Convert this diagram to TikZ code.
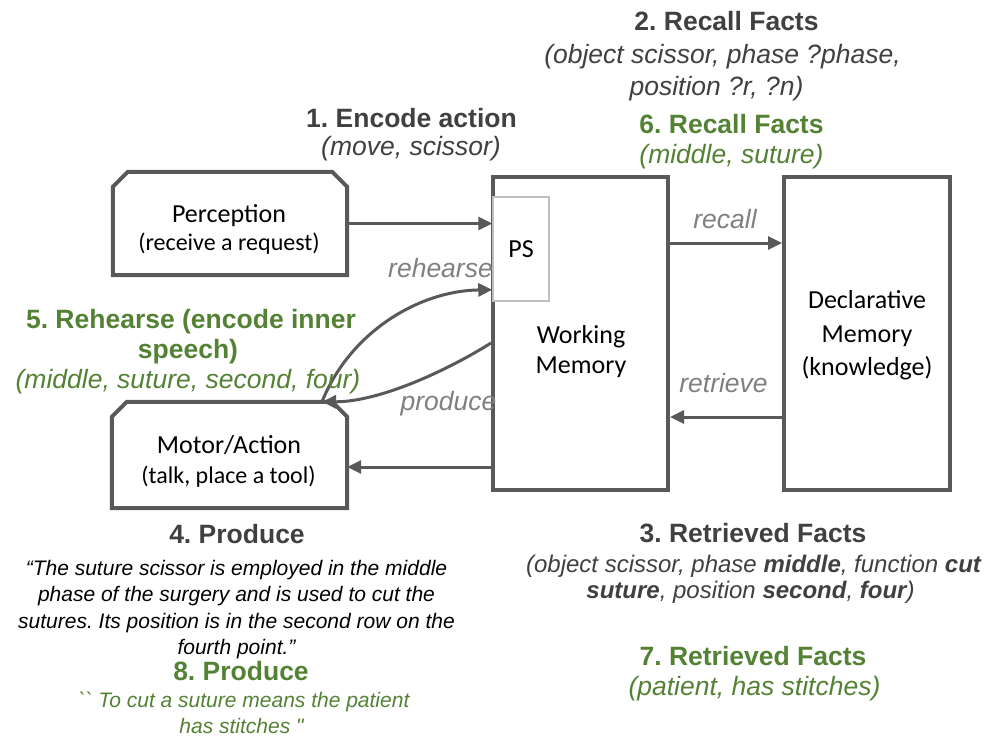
\documentclass[tikz,border=0pt]{standalone}
\usepackage{fontspec}
\setmainfont{Liberation Sans}
\newfontfamily\carlito{Carlito}
\newfontfamily\rawsans{Liberation Sans}
\usetikzlibrary{arrows.meta,calc}
\definecolor{darktext}{RGB}{64,64,64}
\definecolor{mygreen}{RGB}{84,130,53}
\definecolor{labelgray}{RGB}{128,128,128}
\definecolor{boxgray}{RGB}{89,89,89}
\definecolor{psgray}{RGB}{191,191,191}
\tikzset{
  hdTitle/.style={font=\fontsize{26.5}{32}\selectfont\bfseries, text=darktext, anchor=base, inner sep=0pt},
  hdSub/.style={font=\fontsize{26.5}{32}\selectfont\itshape, text=darktext, anchor=base, inner sep=0pt},
  hdSubSmall/.style={font=\fontsize{24}{28}\selectfont\itshape, text=darktext, anchor=base, inner sep=0pt},
  grTitle/.style={hdTitle, text=mygreen},
  grSub/.style={hdSub, text=mygreen},
  qtLine/.style={font=\fontsize{21}{26}\selectfont\itshape, text=black, anchor=base, inner sep=0pt},
  grQtLine/.style={font=\rawsans\fontsize{21}{26}\selectfont\itshape, text=mygreen, anchor=base, inner sep=0pt},
  flowLabel/.style={font=\fontsize{26.5}{32}\selectfont\itshape, text=labelgray, anchor=base, inner sep=0pt},
  boxMain/.style={font=\carlito\fontsize{26}{30}\selectfont, text=black, anchor=base, inner sep=0pt},
  boxSmall/.style={font=\carlito\fontsize{24}{28}\selectfont, text=black, anchor=base, inner sep=0pt},
  plainBox/.style={rectangle, inner sep=0pt},
  memBox/.style={rectangle, inner sep=0pt, draw=boxgray, line width=4pt},
  psBox/.style={rectangle, inner sep=0pt, draw=psgray, line width=1.5pt, fill=white},
  cutLine/.style={draw=boxgray, line width=4pt},
  arr/.style={draw=boxgray, line width=3pt, -{Triangle[length=14pt,width=13pt]}}
}
\frenchspacing
\begin{document}
\frenchspacing
\begin{tikzpicture}[x=1pt,y=-1pt]
\path[use as bounding box, fill=white] (0,0) rectangle (992,737);

% boxes
\node[plainBox, minimum width=234pt, minimum height=103pt] (perc) at (230,223.5) {};
\node[plainBox, minimum width=235pt, minimum height=106pt] (motor) at (229.5,455) {};
\node[memBox, minimum width=175pt, minimum height=313pt] (wm) at (580.5,333.5) {};
\node[memBox, minimum width=166pt, minimum height=313pt] (dm) at (867,333.5) {};
\node[psBox, minimum width=56pt, minimum height=104pt] (ps) at (521,249) {};

\draw[cutLine] (perc.south west) -- ($(perc.north west)+(0,15)$) -- ($(perc.north west)+(15,0)$)
  -- ($(perc.north east)+(-15,0)$) -- ($(perc.north east)+(0,15)$) -- (perc.south east) -- cycle;
\draw[cutLine] (motor.south west) -- ($(motor.north west)+(0,15)$) -- ($(motor.north west)+(15,0)$)
  -- ($(motor.north east)+(-15,0)$) -- ($(motor.north east)+(0,15)$) -- (motor.south east) -- cycle;

% box texts
\node[boxMain] (tperc) at (229,222) {Perception};
\node[boxSmall] (tperc2) at (229,250) {(receive a request)};
\node[boxMain] (tmotor) at (229,453) {Motor/Action};
\node[boxSmall] (tmotor2) at (228.5,483) {(talk, place a tool)};
\node[boxMain] (tps) at (521,257) {PS};
\node[boxMain] (twm1) at (581,343) {Working};
\node[boxMain] (twm2) at (581,373) {Memory};
\node[boxMain] (tdm1) at (867,308) {Declarative};
\node[boxMain] (tdm2) at (867,342) {Memory};
\node[boxMain] (tdm3) at (867,375) {(knowledge)};

% connectors
\draw[arr] (perc.east) -- (perc.east -| ps.west);
\coordinate (rc) at ($(wm.north east)+(0,68)$);
\draw[arr] (rc) -- (rc -| dm.west);
\coordinate (rt) at ($(dm.south west)+(0,-75)$);
\draw[arr] (rt) -- (rt -| wm.east);
\coordinate (pm) at ($(wm.south west)+(0,-25)$);
\draw[arr] (pm) -- (pm -| motor.east);
\coordinate (mt) at ($(motor.north)+(92.5,0)$);
\coordinate (psin) at ($(ps.south west)+(0,-12)$);
\coordinate (wmout) at ($(wm.west)+(0,9.5)$);
\draw[arr] (mt) .. controls +(28,-70) and +(-73,1) .. (psin);
\draw[arr] (wmout) .. controls +(-43,27) and +(58,0) .. (mt);

% connector labels
\node[flowLabel] (lrecall) at (725,228) {recall};
\node[flowLabel] (lretrieve) at (723.5,392) {retrieve};
\node[flowLabel] (lrehearse) at (440.5,277) {rehearse};
\node[flowLabel] (lproduce) at (448.5,410) {produce};

% step 1
\node[hdTitle] (s1a) at (411.5,127) {1. Encode action};
\node[hdSub] (s1b) at (411,155) {(move, scissor)};
% step 2
\node[hdTitle] (s2a) at (726.5,30) {2. Recall Facts};
\node[hdSub] (s2b) at (722.5,63) {(object scissor, phase ?phase,};
\node[hdSub] (s2c) at (716.5,95) {position ?r, ?n)};
% step 6
\node[grTitle] (s6a) at (731.5,133) {6. Recall Facts};
\node[grSub] (s6b) at (731.5,163) {(middle, suture)};
% step 5
\node[grTitle] (s5a) at (191,328) {5. Rehearse (encode inner};
\node[grTitle] (s5b) at (188,358) {speech)};
\node[grSub] (s5c) at (188,388) {(middle, suture, second, four)};
% step 4
\node[hdTitle] (s4a) at (237,543) {4. Produce};
\node[qtLine] (s4b) at (236.5,575) {“The suture scissor is employed in the middle};
\node[qtLine] (s4c) at (236.5,601.5) {phase of the surgery and is used to cut the};
\node[qtLine] (s4d) at (236.5,628) {sutures. Its position is in the second row on the};
\node[qtLine] (s4e) at (236.5,654.5) {fourth point.”};
% step 8
\node[grTitle] (s8a) at (241,680) {8. Produce};
\node[grQtLine] (s8b) at (244,707) {`` To cut a suture means the patient};
\node[grQtLine] (s8c) at (241.5,733) {has stitches "};
% step 3
\node[hdTitle] (s3a) at (753,542) {3. Retrieved Facts};
\node[hdSubSmall] (s3b) at (753.5,572) {(object scissor, phase \textbf{middle}, function \textbf{cut}};
\node[hdSubSmall] (s3c) at (750.5,598) {\textbf{suture}, position \textbf{second}, \textbf{four})};
% step 7
\node[grTitle] (s7a) at (753,665) {7. Retrieved Facts};
\node[grSub] (s7b) at (754.5,695) {(patient, has stitches)};
\end{tikzpicture}
\end{document}
